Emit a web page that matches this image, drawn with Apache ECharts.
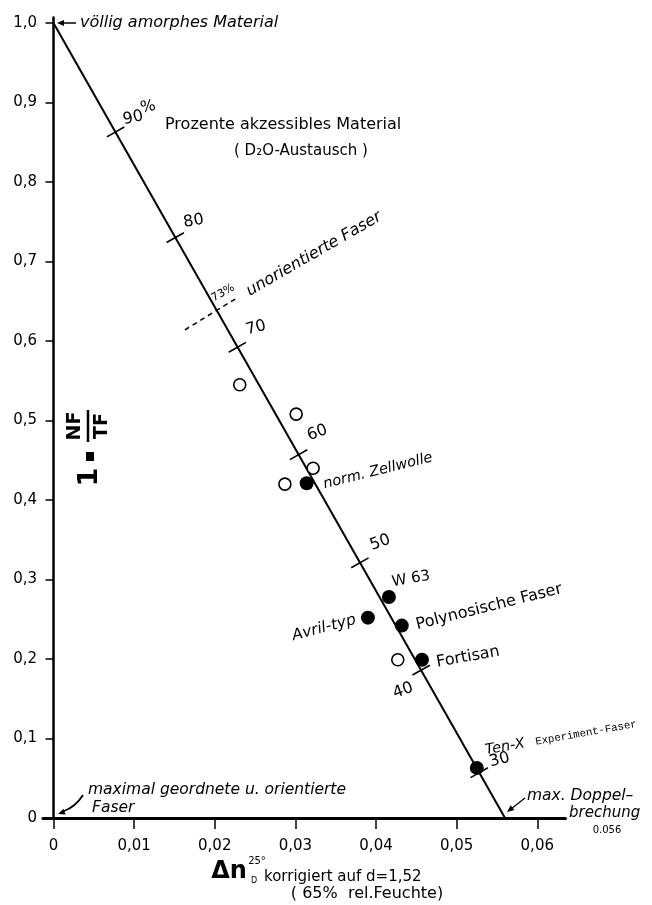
<!DOCTYPE html>
<html><head><meta charset="utf-8">
<script src="https://cdn.jsdelivr.net/npm/echarts@6/dist/echarts.min.js"></script>
<style>html,body{margin:0;padding:0;background:#fff}#c{width:652px;height:905px}</style>
</head><body><div id="c"></div>
<script>
// ---- data ----
const xTicks = [0, 0.01, 0.02, 0.03, 0.04, 0.05, 0.06];
const yTicks = [0, 0.1, 0.2, 0.3, 0.4, 0.5, 0.6, 0.7, 0.8, 0.9, 1.0];
const mainLine = [[0, 1.0], [0.056, 0]];
const openPoints = [[0.0231, 0.545], [0.0301, 0.508], [0.0322, 0.440], [0.0287, 0.420], [0.0427, 0.199]];
const filledPoints = [[0.0314, 0.421], [0.0416, 0.278], [0.0390, 0.252], [0.0432, 0.242], [0.0457, 0.199], [0.0525, 0.063]];
const filledNames = ['norm. Zellwolle', 'W 63', 'Avril-typ', 'Polynosische Faser', 'Fortisan', 'Ten-X'];
const pctLabels = ['90', '80', '70', '60', '50', '40', '30'];
const pctTicks = [[0.0077, 0.863], [0.0151, 0.730], [0.0228, 0.592], [0.0304, 0.457], [0.0380, 0.321], [0.0456, 0.186], [0.0528, 0.057]];
const dashed73 = [[0.0163, 0.614], [0.0229, 0.655]];

const FONT = '"DejaVu Sans", sans-serif';
const fmtY = v => v === 0 ? '0' : v.toFixed(1).replace('.', ',');
const fmtX = v => v === 0 ? '0' : v.toFixed(2).replace('.', ',');

// label placement (offset / rotation) for percentage ticks
const pctLabelStyle = [
  {offset: [20, -10], rotate: 12},
  {offset: [21, -13], rotate: 10},
  {offset: [23, -14], rotate: 15},
  {offset: [25, -14], rotate: 20},
  {offset: [26, -12], rotate: 20},
  {offset: [-24, 13], rotate: 20},
  {offset: [23, -7], rotate: 15}
];

const chart = echarts.init(document.getElementById('c'), null, {renderer: 'canvas'});
const deg = d => d * Math.PI / 180;
function T(text, x, y, o) {
  o = o || {};
  return {
    type: 'text', x: x, y: y, rotation: deg(o.rot || 0), z: 100,
    style: {
      text: text, x: 0, y: 0,
      font: (o.italic ? 'italic ' : '') + (o.bold ? 'bold ' : '') + (o.size || 14) + 'px ' + (o.family || FONT),
      fill: '#000',
      textAlign: o.align || 'center', textVerticalAlign: 'middle',
      align: o.align || 'center', verticalAlign: 'middle'
    }
  };
}
function arrowHead(x, y, angDeg) {
  const a = deg(angDeg), L = 7, W = 3;
  const bx = x - L * Math.cos(a), by = y - L * Math.sin(a);
  const px = -Math.sin(a) * W, py = Math.cos(a) * W;
  return {type: 'polygon', z: 100, shape: {points: [[x, y], [bx + px, by + py], [bx - px, by - py]]}, style: {fill: '#000'}};
}

const graphics = [
  // top annotation
  {type: 'line', z: 100, shape: {x1: 76, y1: 23, x2: 62, y2: 23}, style: {stroke: '#000', lineWidth: 1.5}},
  arrowHead(57, 23, 180),
  T('völlig amorphes Material', 80, 23, {italic: true, size: 16, align: 'left'}),
  // percentage title
  T('%', 148, 107, {size: 16, rot: 12}),
  T('Prozente akzessibles Material', 165, 125, {size: 16, align: 'left'}),
  T('( D\u2082O-Austausch )', 234, 151, {size: 15, align: 'left'}),
  // 73% line text
  T('73%', 223, 293, {size: 11, rot: 30}),
  T('unorientierte Faser', 314, 254, {italic: true, size: 16, rot: 30}),
  // point labels
  T('norm. Zellwolle', 378, 471, {italic: true, size: 14.5, rot: 14}),
  T('W 63', 411, 579, {size: 15, rot: 10}),
  T('Avril-typ', 324, 628, {italic: true, size: 15.5, rot: 15}),
  T('Polynosische Faser', 489, 607, {size: 16, rot: 14}),
  T('Fortisan', 468, 657, {size: 16, rot: 10}),
  T('Ten-X', 505, 747, {italic: true, size: 14.5, rot: 10}),
  T('Experiment-Faser', 586, 733, {size: 10.7, rot: 10, family: '"Liberation Mono", monospace'}),
  // bottom-left annotation
  T('maximal geordnete u. orientierte', 88, 790, {italic: true, size: 15.5, align: 'left'}),
  T('Faser', 92, 808, {italic: true, size: 15.5, align: 'left'}),
  {type: 'bezierCurve', z: 100, shape: {x1: 83, y1: 795, x2: 64, y2: 811, cpx1: 78, cpy1: 803, cpx2: 72, cpy2: 808}, style: {stroke: '#000', lineWidth: 1.8, fill: null}},
  arrowHead(58, 814, 160),
  // bottom-right annotation
  T('max. Doppel\u2013', 527, 796, {italic: true, size: 15.5, align: 'left'}),
  T('brechung', 569, 813, {italic: true, size: 15, align: 'left'}),
  T('0.056', 607, 830, {size: 10}),
  {type: 'line', z: 100, shape: {x1: 525, y1: 798, x2: 511, y2: 809}, style: {stroke: '#000', lineWidth: 1.3}},
  arrowHead(507, 812, 142),
  // x-axis title
  T('\u0394n', 229, 872, {bold: true, size: 24}),
  T('25\u00b0', 257, 861, {size: 10}),
  T('D', 254, 881, {size: 8}),
  T('korrigiert auf d=1,52', 264, 877, {size: 15, align: 'left'}),
  T('( 65%  rel.Feuchte)', 367, 894, {size: 16}),
  // y-axis title (rotated)
  {
    type: 'group', x: 88, y: 446, rotation: Math.PI / 2, z: 100,
    children: [
      {type: 'text', x: -31, y: 2, style: {text: '1', x: 0, y: 0, font: 'bold 27px ' + FONT, fill: '#000', textAlign: 'center', textVerticalAlign: 'middle', align: 'center', verticalAlign: 'middle'}},
      {type: 'rect', shape: {x: -15, y: -2, width: 9, height: 8}, style: {fill: '#000'}},
      {type: 'text', x: 20, y: -13, style: {text: 'NF', x: 0, y: 0, font: 'bold 19px ' + FONT, fill: '#000', textAlign: 'center', textVerticalAlign: 'middle', align: 'center', verticalAlign: 'middle'}},
      {type: 'text', x: 20, y: 14, style: {text: 'TF', x: 0, y: 0, font: 'bold 19px ' + FONT, fill: '#000', textAlign: 'center', textVerticalAlign: 'middle', align: 'center', verticalAlign: 'middle'}},
      {type: 'line', shape: {x1: 4, y1: 0, x2: 36, y2: 0}, style: {stroke: '#000', lineWidth: 2.5}}
    ]
  }
];

const option = {
  backgroundColor: '#fff',
  animation: false,
  grid: {left: 43, right: 86.5, top: 17.4, bottom: 87, containLabel: false},
  xAxis: {
    type: 'value', min: -0.0013, max: 0.0635,
    axisLine: {show: true, onZero: true, lineStyle: {color: '#000', width: 3}},
    axisTick: {show: true, customValues: xTicks, length: 11, lineStyle: {color: '#000', width: 1.5}},
    axisLabel: {show: true, customValues: xTicks, formatter: fmtX, color: '#000', fontSize: 15, fontFamily: FONT, margin: 21},
    splitLine: {show: false}
  },
  yAxis: {
    type: 'value', min: 0, max: 1.007,
    axisLine: {show: true, onZero: true, lineStyle: {color: '#000', width: 2.5}},
    axisTick: {show: true, customValues: yTicks, length: 8, lineStyle: {color: '#000', width: 1.5}},
    axisLabel: {show: true, customValues: yTicks, formatter: fmtY, color: '#000', fontSize: 15, fontFamily: FONT, margin: 6},
    splitLine: {show: false}
  },
  series: [
    {type: 'line', data: mainLine, symbol: 'none', lineStyle: {color: '#000', width: 2}, z: 2},
    {type: 'line', data: dashed73, symbol: 'none', lineStyle: {color: '#000', width: 1.5, type: [5, 4]}, z: 2},
    {
      type: 'scatter', data: pctTicks.map((p, i) => ({
        value: p,
        label: {show: true, position: 'inside', formatter: pctLabels[i], offset: pctLabelStyle[i].offset, rotate: pctLabelStyle[i].rotate,
          color: '#000', fontSize: 16, fontFamily: FONT}
      })),
      symbol: 'rect', symbolSize: [20, 1.6], symbolRotate: 29.6,
      itemStyle: {color: '#000', opacity: 1}, z: 3
    },
    {type: 'scatter', data: openPoints, symbol: 'circle', symbolSize: 12,
      itemStyle: {color: '#fff', borderColor: '#000', borderWidth: 1.6, opacity: 1}, z: 4},
    {type: 'scatter', data: filledPoints.map((p, i) => ({value: p, name: filledNames[i]})), symbol: 'circle', symbolSize: 14,
      itemStyle: {color: '#000', opacity: 1}, z: 5}
  ],
  graphic: graphics
};
chart.setOption(option);
</script>
</body></html>
